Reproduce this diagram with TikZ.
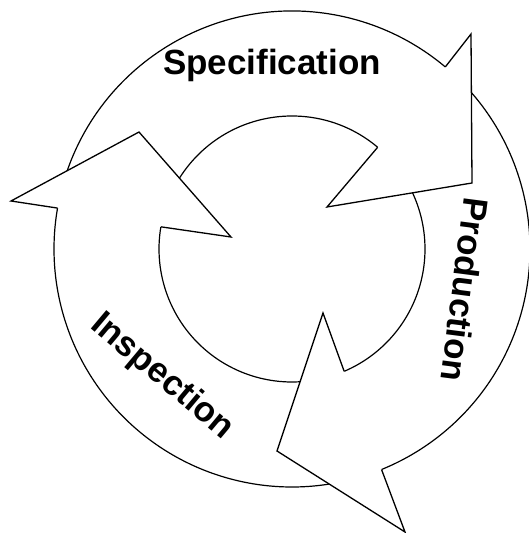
\documentclass[tikz,border=0pt]{standalone}
\usepackage{fontspec}
\setmainfont{Liberation Sans}
\usetikzlibrary{calc}
\begin{document}
\begin{tikzpicture}[x=1pt,y=1pt,
  rim/.style={draw=black,line width=1.2pt},
  head/.style={fill=white,draw=black,line width=1.3pt,line join=miter},
  label/.style={font=\bfseries\fontsize{35}{35}\selectfont,inner sep=0pt}]
\useasboundingbox (0,0) rectangle (528,533);
\fill[white] (0,0) rectangle (528,533);
\def\rOut{238}
\def\rIn{133}
\coordinate (c) at (292,284);

% ring bands: outer and inner arcs of each stage, tails hidden under the previous head
% Specification band
\fill[white] ([shift={(c)}]165:\rOut) arc[start angle=165,end angle=49.9,radius=\rOut]
  -- ([shift={(c)}]49.9:\rIn) arc[start angle=49.9,end angle=165,radius=\rIn] -- cycle;
\draw[rim] ([shift={(c)}]165:\rOut) arc[start angle=165,end angle=49.9,radius=\rOut];
\draw[rim] ([shift={(c)}]49.9:\rIn) arc[start angle=49.9,end angle=165,radius=\rIn];
% Production band
\fill[white] ([shift={(c)}]45:\rOut) arc[start angle=45,end angle=-67.9,radius=\rOut]
  -- ([shift={(c)}]-66.9:\rIn) arc[start angle=-66.9,end angle=45,radius=\rIn] -- cycle;
\draw[rim] ([shift={(c)}]45:\rOut) arc[start angle=45,end angle=-67.9,radius=\rOut];
\draw[rim] ([shift={(c)}]-66.9:\rIn) arc[start angle=-66.9,end angle=45,radius=\rIn];
% Inspection band
\fill[white] ([shift={(c)}]-75:\rOut) arc[start angle=-75,end angle=-189.9,radius=\rOut]
  -- ([shift={(c)}]-189.6:\rIn) arc[start angle=-189.6,end angle=-75,radius=\rIn] -- cycle;
\draw[rim] ([shift={(c)}]-75:\rOut) arc[start angle=-75,end angle=-189.9,radius=\rOut];
\draw[rim] ([shift={(c)}]-189.6:\rIn) arc[start angle=-189.6,end angle=-75,radius=\rIn];

% arrow heads
\coordinate (sOut) at ([shift={(c)}]49.9:\rOut);
\coordinate (sIn)  at ([shift={(c)}]49.9:\rIn);
\coordinate (sBarbA) at (471,499);
\coordinate (sTip)   at (472,350);
\coordinate (sBarbB) at (327,326);
\filldraw[head] (sOut) -- (sBarbA) -- (sTip) -- (sBarbB) -- (sIn);

\coordinate (pOut) at ([shift={(c)}]-67.9:\rOut);
\coordinate (pIn)  at ([shift={(c)}]-66.9:\rIn);
\coordinate (pBarbA) at (405,1);
\coordinate (pTip)   at (277,82);
\coordinate (pBarbB) at (323,220);
\filldraw[head] (pOut) -- (pBarbA) -- (pTip) -- (pBarbB) -- (pIn);

\coordinate (iOut) at ([shift={(c)}]170.1:\rOut);
\coordinate (iIn)  at ([shift={(c)}]170.4:\rIn);
\coordinate (iBarbA) at (11,332);
\coordinate (iTip)   at (139,401);
\coordinate (iBarbB) at (231,296);
\filldraw[head] (iOut) -- (iBarbA) -- (iTip) -- (iBarbB) -- (iIn);

% stage labels
\node[label,anchor=base] (spec) at (272,458) {Specification};
\node[label,rotate=-97.4] (prod) at (465,243) {Production};
\node[label,rotate=-40] (insp) at (162,156) {Inspection};
\end{tikzpicture}
\end{document}
